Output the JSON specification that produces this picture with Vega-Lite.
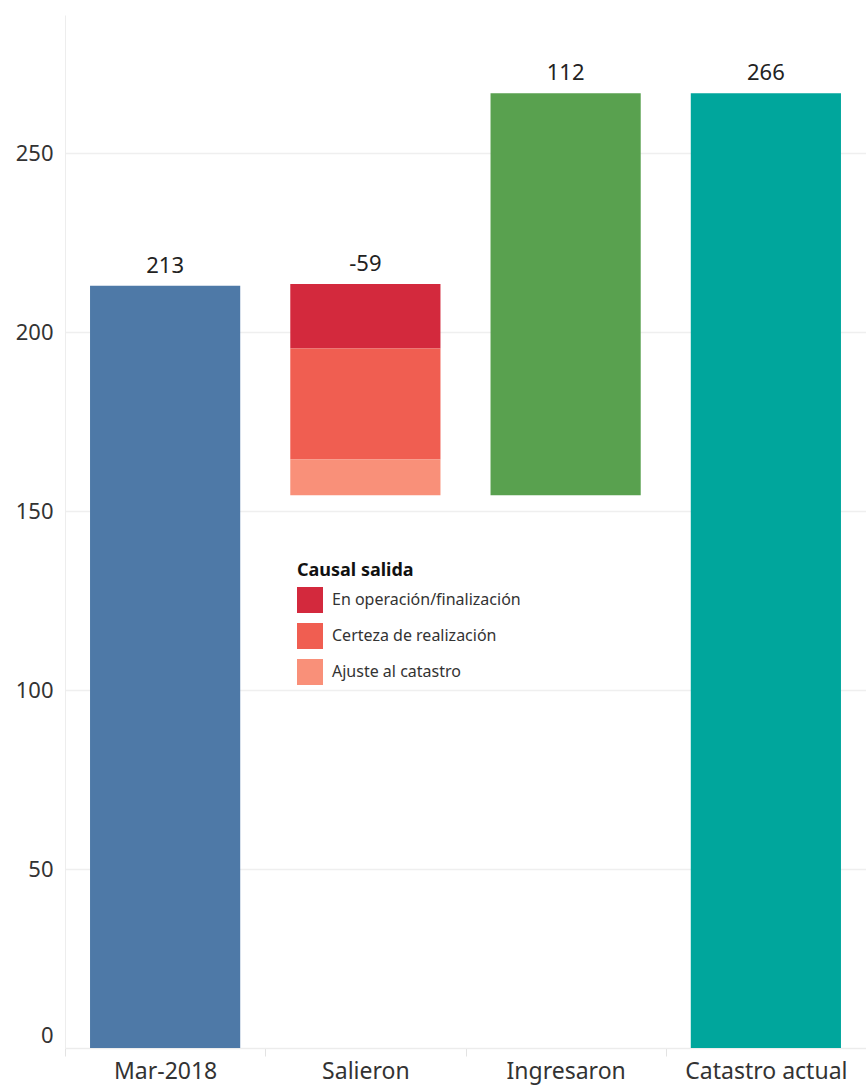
{
  "$schema": "https://vega.github.io/schema/vega-lite/v6.json",
  "width": 801,
  "height": 1033,
  "autosize": {"type": "none"},
  "padding": {"left": 65, "top": 15, "right": 0, "bottom": 39},
  "background": "white",
  "config": {
    "font": "Noto Sans",
    "view": {"stroke": null}
  },
  "datasets": {
    "bars": [
      {"categoria": "Mar-2018", "tipo": "Mar-2018", "inicio": 0, "fin": 213},
      {"categoria": "Salieron", "tipo": "En operación/finalización", "inicio": 195.5, "fin": 213.5},
      {"categoria": "Salieron", "tipo": "Certeza de realización", "inicio": 164.5, "fin": 195.5},
      {"categoria": "Salieron", "tipo": "Ajuste al catastro", "inicio": 154.5, "fin": 164.5},
      {"categoria": "Ingresaron", "tipo": "Ingresaron", "inicio": 154.5, "fin": 266.8},
      {"categoria": "Catastro actual", "tipo": "Catastro actual", "inicio": 0, "fin": 266.8}
    ],
    "etiquetas": [
      {"categoria": "Mar-2018", "tope": 213, "etiqueta": "213"},
      {"categoria": "Salieron", "tope": 213.5, "etiqueta": "-59"},
      {"categoria": "Ingresaron", "tope": 266.8, "etiqueta": "112"},
      {"categoria": "Catastro actual", "tope": 266.8, "etiqueta": "266"}
    ]
  },
  "encoding": {
    "x": {
      "field": "categoria",
      "type": "nominal",
      "sort": ["Mar-2018", "Salieron", "Ingresaron", "Catastro actual"],
      "scale": {"paddingInner": 0.25, "paddingOuter": 0.125},
      "axis": {
        "title": null,
        "labelAngle": 0,
        "labelFontSize": 23,
        "labelColor": "#333333",
        "labelPadding": 4,
        "tickOffset": -100,
        "labelOffset": 100,
        "tickSize": 8,
        "tickColor": "#e3e3e3",
        "domainColor": "#ececec",
        "grid": false
      }
    }
  },
  "layer": [
    {
      "data": {"name": "bars"},
      "mark": {"type": "bar"},
      "encoding": {
        "y": {
          "field": "inicio",
          "type": "quantitative",
          "scale": {"domain": [0, 288.7], "nice": false, "zero": true},
          "axis": {
            "title": null,
            "values": [0, 50, 100, 150, 200, 250],
            "labelFontSize": 22,
            "labelColor": "#333333",
            "labelPadding": 12,
            "labelOffset": {"condition": {"test": "datum.value == 0", "value": -13}, "value": 0},
            "ticks": false,
            "tickSize": 0,
            "gridColor": "#efefef",
            "gridWidth": 1.5,
            "domainColor": "#ededed",
            "labelBaseline": "middle"
          }
        },
        "y2": {"field": "fin"},
        "color": {
          "field": "tipo",
          "type": "nominal",
          "scale": {
            "domain": ["Mar-2018", "En operación/finalización", "Certeza de realización", "Ajuste al catastro", "Ingresaron", "Catastro actual"],
            "range": ["#4e79a7", "#d3293d", "#f05e51", "#f99079", "#59a14f", "#00a69c"]
          },
          "legend": {
            "title": "Causal salida",
            "values": ["En operación/finalización", "Certeza de realización", "Ajuste al catastro"],
            "orient": "none",
            "legendX": 232,
            "legendY": 547,
            "titleFontSize": 18,
            "titleFontWeight": "bold",
            "titleColor": "#111111",
            "titlePadding": 7,
            "labelFontSize": 16,
            "labelColor": "#333333",
            "labelOffset": 9,
            "labelLimit": 400,
            "symbolType": "square",
            "symbolSize": 676,
            "symbolStrokeWidth": 0,
            "symbolOpacity": 1,
            "rowPadding": 10
          }
        }
      }
    },
    {
      "data": {"name": "etiquetas"},
      "mark": {"type": "text", "baseline": "bottom", "dy": -8, "fontSize": 22, "color": "#222222"},
      "encoding": {
        "y": {"field": "tope", "type": "quantitative"},
        "text": {"field": "etiqueta", "type": "nominal"}
      }
    }
  ]
}
